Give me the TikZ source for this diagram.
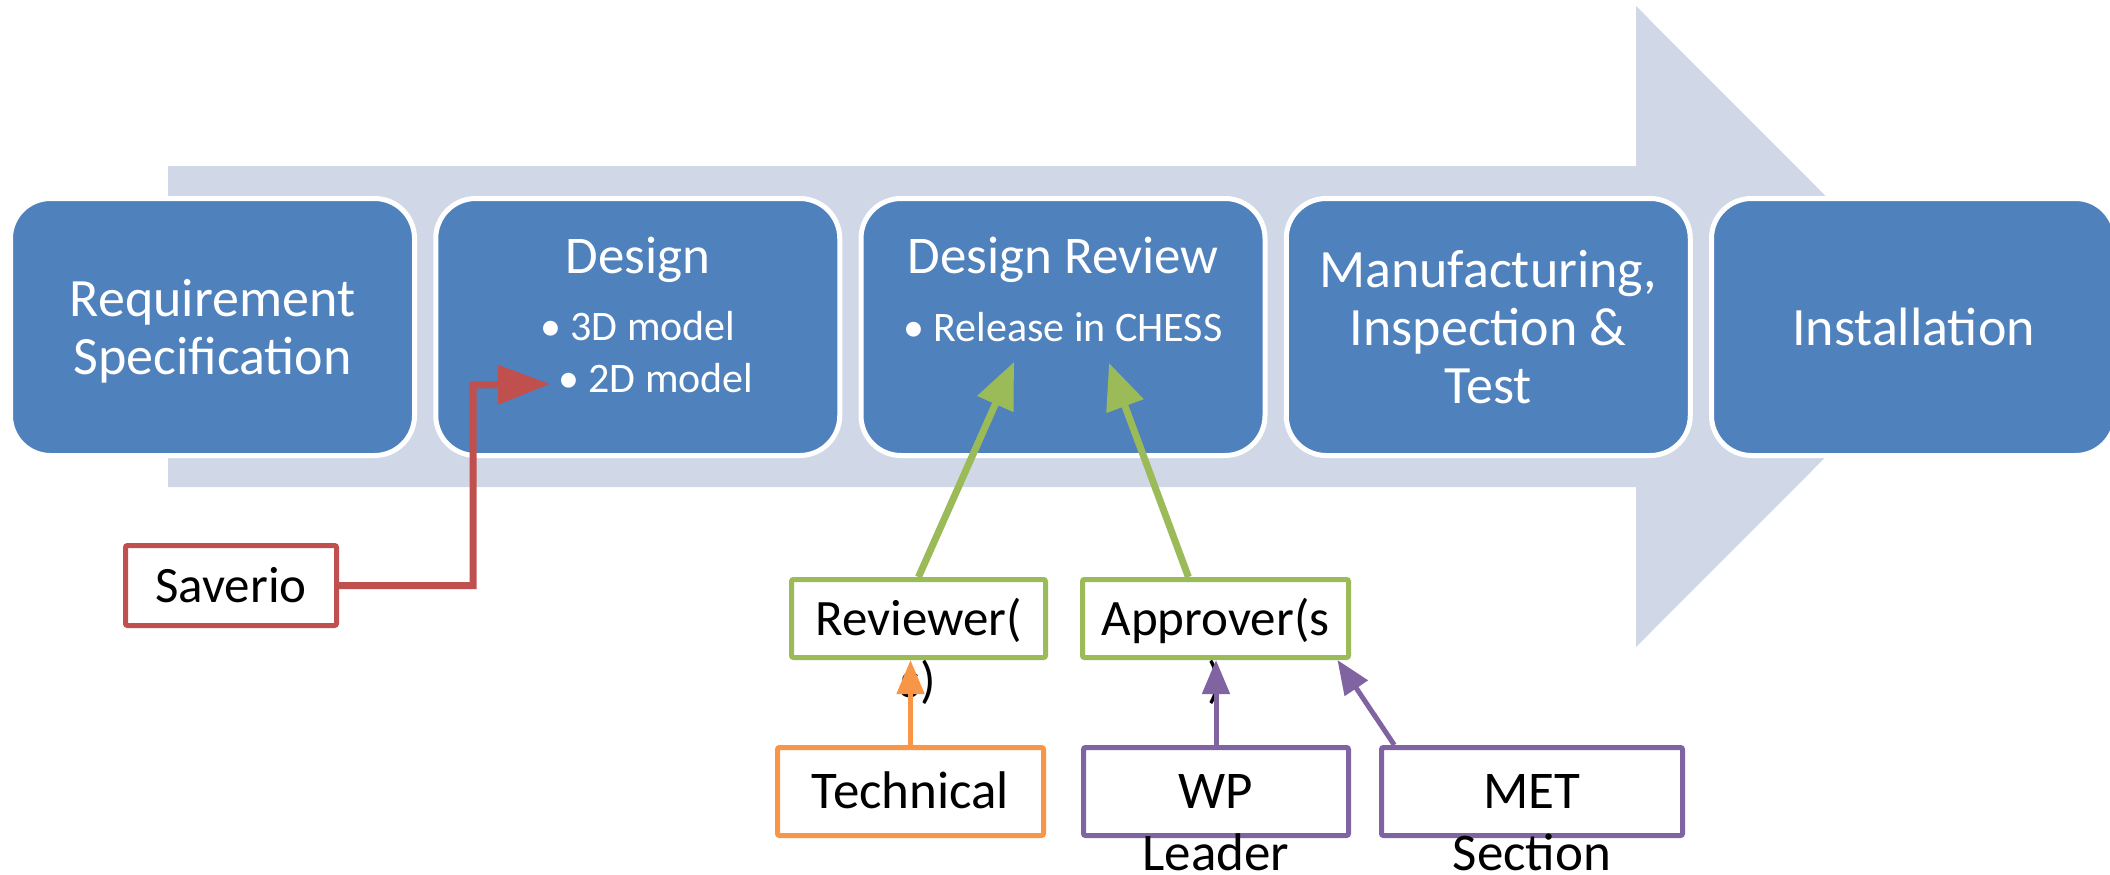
\documentclass[tikz,border=0pt]{standalone}
\usepackage{fontspec}
\setmainfont{Carlito}
\usetikzlibrary{shapes,calc,arrows.meta}
\usepackage{xcolor}

\definecolor{stepblue}{HTML}{4F81BD}
\definecolor{flowgray}{HTML}{D0D8E8}
\definecolor{savred}{HTML}{C0504D}
\definecolor{revgreen}{HTML}{9BBB59}
\definecolor{techorange}{HTML}{F79646}
\definecolor{metpurple}{HTML}{8064A2}

\tikzset{
  stage/.style={draw=white, line width=5pt, fill=stepblue, rounded corners=40pt,
    minimum width=404pt, minimum height=257pt, inner sep=0pt, text depth=0pt,
    text=white, align=center, font=\fontsize{54}{58}\selectfont},
  stagetitle/.style={anchor=base, inner sep=0pt, text=white, font=\fontsize{53}{58}\selectfont},
  bullet/.style={anchor=base west, inner sep=0pt, text=white, font=\fontsize{42}{50}\selectfont},
  who/.style={draw=#1, line width=5pt, fill=white, rounded corners=2pt, inner sep=0pt,
    text height=33pt, text depth=0pt, font=\fontsize{51}{62}\selectfont},
  spill/.style={anchor=base, inner sep=0pt, font=\fontsize{51}{62}\selectfont},
  link/.style={draw=#1, line width=7pt},
  thinlink/.style={draw=#1, line width=5pt, -{Triangle[length=34pt,width=27pt]}}
}

\begin{document}
\begin{tikzpicture}[x=1pt,y=1pt]

  \useasboundingbox (0,0) rectangle (2110,-875);
  % \draw[help lines] (0,0) grid[step=100] (2110,-875);

  % background arrow
  \fill[flowgray] (168,-166) -- (1636,-166) -- (1636,-6) -- (1956,-326.5)
    -- (1636,-647) -- (1636,-487) -- (168,-487) -- cycle;

  \draw (212.5,-327) node (req) [stage] {Requirement\\Specification};
  \draw (637.75,-327) node (design) [stage] {};
  \draw (1063,-327) node (review) [stage] {};
  \draw (1488.25,-327) node (manu) [stage] {Manufacturing,\\Inspection \&\\Test};
  \draw (1913.5,-327) node (inst) [stage] {Installation};

  \draw ($(design.center)+(0,54)$) node (designtitle) [stagetitle] {Design};
  \draw (540,-340) node (threed) [bullet] {• 3D model};
  \draw (558,-392) node (twod) [bullet] {• 2D model};

  \draw ($(review.center)+(0,54)$) node (reviewtitle) [stagetitle] {Design Review};
  \draw (903,-341) node (chess) [bullet] {• Release in CHESS};

  % people
  \draw (231,-585.5) node (sav) [who=savred, minimum width=211pt, minimum height=80pt] {Saverio};
  \draw (918.5,-618.5) node (rev) [who=revgreen, minimum width=254pt, minimum height=78pt] {Reviewer(};
  \draw (1215.5,-618.5) node (app) [who=revgreen, minimum width=266pt, minimum height=78pt] {Approver(s};
  \draw (910.5,-791.5) node (tech) [who=techorange, minimum width=266pt, minimum height=88pt, font=\fontsize{53}{62}\selectfont] {Technical};
  \draw (1216,-791.5) node (wp) [who=metpurple, minimum width=265pt, minimum height=88pt, font=\fontsize{53}{62}\selectfont] {WP};
  \draw (1532,-791.5) node (met) [who=metpurple, minimum width=301pt, minimum height=88pt, font=\fontsize{53}{62}\selectfont] {MET};

  % text running out of the boxes
  \draw ($(rev.base)+(0,-62)$) node (revs) [spill] {s)};
  \draw ($(app.base)+(0,-62)$) node (apps) [spill] {)};
  \draw ($(wp.base)+(0,-62)$) node (wpl) [spill, font=\fontsize{53}{62}\selectfont] {Leader};
  \draw ($(met.base)+(0,-62)$) node (mets) [spill, font=\fontsize{53}{62}\selectfont] {Section};

  \coordinate (bend) at (473,-385);
  \coordinate (twotip) at ($(twod.base west)+(-8,8)$);
  \coordinate (revtip) at (1014,-362);
  \coordinate (apptip) at (1109,-363);

  \draw[link=savred, -{Triangle[length=52pt,width=38pt]}] (sav.east) -| (bend) -- (twotip);
  \draw[link=revgreen, -{Triangle[length=46pt,width=38pt]}] (rev.north) -- (revtip);
  \draw[link=revgreen, -{Triangle[length=46pt,width=38pt]}] ($(app.north west)!0.4!(app.north east)$) -- (apptip);

  \draw[thinlink=techorange] (tech.north) -- (tech.north |- rev.south);
  \draw[thinlink=metpurple] (wp.north) -- (wp.north |- app.south);
  \draw[thinlink=metpurple] ($(met.north west)!0.05!(met.north east)$) -- ($(app.south west)!0.95!(app.south east)$);

\end{tikzpicture}
\end{document}
